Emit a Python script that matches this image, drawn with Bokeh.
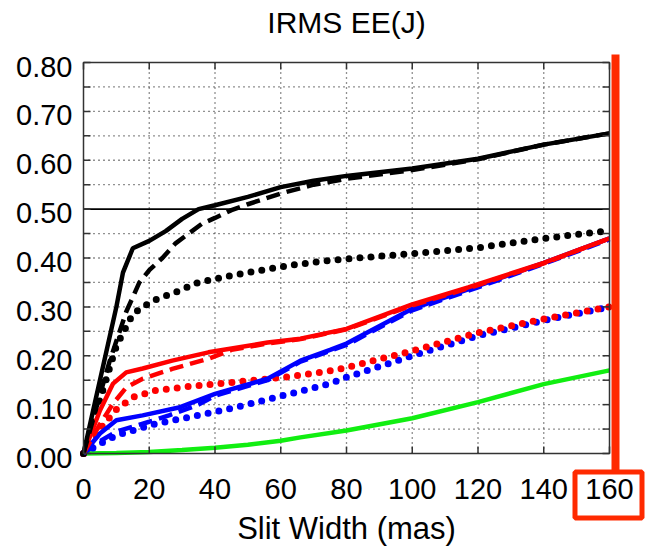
from bokeh.plotting import figure
from bokeh.models import BoxAnnotation, Range1d, Label
from bokeh.core.properties import value
from bokeh.embed import file_html
from bokeh.resources import INLINE

# ---- data ----
title_text = "IRMS EE(J)"
x_label = "Slit Width (mas)"
x_ticks = [0, 20, 40, 60, 80, 100, 120, 140, 160]
y_ticks = [0.0, 0.1, 0.2, 0.3, 0.4, 0.5, 0.6, 0.7, 0.8]
y_minor = [0.05 * i for i in range(17)]
threshold = 0.50
x_min, x_max = 0, 160
y_min, y_max = 0.0, 0.8

blk_solid_x = [0, 5, 10, 12, 15, 20, 25, 30, 35, 40, 50, 60, 70, 80, 100, 120, 140, 160]
blk_solid_y = [0, 0.15, 0.30, 0.37, 0.42, 0.435, 0.455, 0.48, 0.50, 0.508, 0.525, 0.545, 0.558, 0.568, 0.583, 0.603, 0.632, 0.655]
blk_dash_x = [0, 5, 8, 10, 13, 17, 20, 24, 28, 32, 36, 40, 45, 50, 60, 70, 80, 100, 120, 140, 160]
blk_dash_y = [0, 0.12, 0.19, 0.23, 0.29, 0.35, 0.375, 0.40, 0.43, 0.45, 0.47, 0.482, 0.498, 0.51, 0.532, 0.55, 0.562, 0.58, 0.602, 0.632, 0.655]
blk_dot_x = [0, 5, 10, 15, 18, 22, 28, 35, 40, 45, 55, 65, 75, 85, 100, 120, 140, 160]
blk_dot_y = [0, 0.11, 0.22, 0.285, 0.30, 0.315, 0.33, 0.35, 0.357, 0.364, 0.376, 0.387, 0.395, 0.401, 0.409, 0.421, 0.44, 0.456]

red_solid_x = [0, 5, 9, 13, 18, 27, 38, 56, 66, 80, 100, 117, 140, 160]
red_solid_y = [0, 0.088, 0.143, 0.166, 0.174, 0.19, 0.207, 0.227, 0.235, 0.255, 0.305, 0.34, 0.39, 0.44]
red_dash_x = [0, 5, 9, 13, 18, 27, 38, 45, 56, 66, 80, 100, 117, 140, 160]
red_dash_y = [0, 0.06, 0.102, 0.135, 0.153, 0.173, 0.194, 0.212, 0.225, 0.234, 0.254, 0.303, 0.338, 0.389, 0.44]
red_dot_x = [0, 5, 10, 15, 22, 32, 46, 61, 75, 80, 100, 120, 140, 160]
red_dot_y = [0, 0.05, 0.09, 0.115, 0.129, 0.137, 0.146, 0.156, 0.169, 0.176, 0.21, 0.247, 0.275, 0.30]

blu_solid_x = [0, 5, 10, 18, 29, 40, 56, 66, 75, 80, 100, 120, 140, 160]
blu_solid_y = [0, 0.041, 0.068, 0.078, 0.094, 0.122, 0.153, 0.19, 0.212, 0.225, 0.296, 0.343, 0.39, 0.44]
blu_dash_x = [0, 5, 10, 15, 20, 26, 35, 40, 56, 66, 75, 80, 100, 120, 140, 160]
blu_dash_y = [0, 0.025, 0.045, 0.055, 0.065, 0.078, 0.1, 0.118, 0.15, 0.188, 0.21, 0.222, 0.293, 0.34, 0.388, 0.438]
blu_dot_x = [0, 5, 10, 15, 22, 32, 46, 61, 75, 80, 100, 120, 140, 160]
blu_dot_y = [0, 0.02, 0.037, 0.047, 0.061, 0.074, 0.094, 0.119, 0.143, 0.156, 0.20, 0.241, 0.272, 0.30]

grn_x = [0, 10, 20, 30, 40, 50, 60, 66, 80, 100, 120, 140, 160]
grn_y = [0, 0.001, 0.003, 0.007, 0.012, 0.018, 0.026, 0.033, 0.047, 0.072, 0.105, 0.142, 0.17]

# ---- layout (pixels) ----
W, H = 645, 549
PL, PR, PT, PB = 83, 609, 62, 453          # plot box edges on the canvas
sx = (PR - PL) / (x_max - x_min)            # px per x unit
sy = (PB - PT) / (y_max - y_min)            # px per y unit
FONT = "Liberation Sans"
AX = "#333333"

p = figure(width=W, height=H, min_border=0,
           x_range=Range1d(x_min - PL / sx, x_max + (W - PR) / sx),
           y_range=Range1d(y_min - (H - PB) / sy, y_max + PT / sy),
           x_axis_location=None, y_axis_location=None,
           output_backend="svg", toolbar_location=None, title=None)
p.grid.visible = False
p.outline_line_color = None
p.background_fill_color = "white"
p.border_fill_color = "white"

# dotted grid
gx = [t for t in x_ticks if x_min < t < x_max]
gy = [t for t in y_minor if y_min < t < y_max - 1e-9 and abs(t - threshold) > 1e-9]
p.segment(x0=gx, y0=[y_min] * len(gx), x1=gx, y1=[y_max] * len(gx),
          line_color="#222222", line_width=1.3, line_dash="1 4")
p.segment(x0=[x_min] * len(gy), y0=gy, x1=[x_max] * len(gy), y1=gy,
          line_color="#222222", line_width=1.3, line_dash="1 4")

# threshold line
p.segment(x0=[x_min], y0=[threshold], x1=[x_max], y1=[threshold], line_color="black", line_width=1.8)

DOT = "0 11"
DASH = "14 7"
LW = 4.5
DW = 7
p.line(grn_x, grn_y, color="#11EE11", line_width=LW)
p.line(blu_dot_x, blu_dot_y, color="#0000FF", line_width=DW, line_dash=DOT, line_cap="round")
p.line(red_dot_x, red_dot_y, color="#FF0000", line_width=DW, line_dash=DOT, line_cap="round")
p.line(blk_dot_x, blk_dot_y, color="black", line_width=DW, line_dash=DOT, line_cap="round")
p.line(blu_dash_x, blu_dash_y, color="#0000FF", line_width=LW, line_dash=DASH)
p.line(blu_solid_x, blu_solid_y, color="#0000FF", line_width=LW)
p.line(red_dash_x, red_dash_y, color="#FF0000", line_width=LW, line_dash=DASH)
p.line(red_solid_x, red_solid_y, color="#FF0000", line_width=LW)
p.line(blk_dash_x, blk_dash_y, color="black", line_width=LW, line_dash=DASH)
p.line(blk_solid_x, blk_solid_y, color="black", line_width=LW)

# plot box
p.quad(left=[x_min], right=[x_max], bottom=[y_min], top=[y_max],
       fill_color=None, line_color=AX, line_width=1.5)

# inner tick marks on all four sides
tl = 7
n = len(x_ticks)
p.segment(x0=x_ticks, y0=[y_min] * n, x1=x_ticks, y1=[y_min + tl / sy] * n, line_color=AX, line_width=1.5)
p.segment(x0=x_ticks, y0=[y_max] * n, x1=x_ticks, y1=[y_max - tl / sy] * n, line_color=AX, line_width=1.5)
m = len(y_minor)
p.segment(x0=[x_min] * m, y0=y_minor, x1=[x_min + tl / sx] * m, y1=y_minor, line_color=AX, line_width=1.5)
p.segment(x0=[x_max] * m, y0=y_minor, x1=[x_max - tl / sx] * m, y1=y_minor, line_color=AX, line_width=1.5)

# tick labels
p.text(x=x_ticks, y=[y_min - 35 / sy] * n, text=[str(t) for t in x_ticks],
       text_align="center", text_baseline="middle", text_font=value(FONT),
       text_font_size="29px", text_color="black")
k = len(y_ticks)
p.text(x=[x_min - 11 / sx] * k, y=[t - 4 / sy for t in y_ticks], text=["%.2f" % t for t in y_ticks],
       text_align="right", text_baseline="middle", text_font=value(FONT),
       text_font_size="29px", text_color="black")

# title and axis label
p.add_layout(Label(x=(x_min + x_max) / 2, y=y_max + 40 / sy, text=title_text,
                   text_align="center", text_baseline="middle", text_font=FONT,
                   text_font_size="30px", text_color="black"))
p.add_layout(Label(x=(x_min + x_max) / 2, y=y_min - 75 / sy, text=x_label,
                   text_align="center", text_baseline="middle", text_font=FONT,
                   text_font_size="31px", text_color="black"))

# red highlight marks
RED = "#FF2A00"
p.add_layout(BoxAnnotation(left=611, right=619, top=54, bottom=470,
                           left_units="canvas", right_units="canvas",
                           top_units="canvas", bottom_units="canvas",
                           fill_color=RED, fill_alpha=1, line_color=None))
p.add_layout(BoxAnnotation(left=574.5, right=641.5, top=471.5, bottom=517.5,
                           left_units="canvas", right_units="canvas",
                           top_units="canvas", bottom_units="canvas",
                           fill_alpha=0, line_color=RED, line_alpha=1, line_width=5))

open("out.html", "w").write(file_html(p, INLINE))
